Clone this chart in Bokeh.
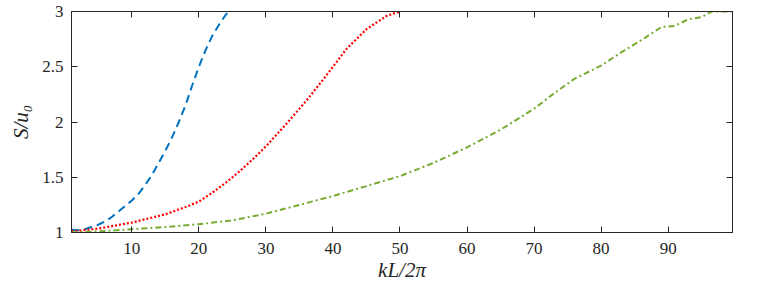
from bokeh.plotting import figure
from bokeh.models import Range1d, LinearAxis, FixedTicker
from bokeh.embed import file_html
from bokeh.resources import INLINE

# Data
blue_x = [1, 2, 3, 4, 5, 6, 7, 8, 9, 10, 11, 12, 13, 14, 15, 16, 17, 18, 19, 20, 21, 22, 23, 24, 24.5]
blue_y = [1.025, 1.02, 1.03, 1.05, 1.07, 1.10, 1.14, 1.19, 1.24, 1.29, 1.35, 1.43, 1.52, 1.63, 1.74,
          1.86, 2.0, 2.15, 2.33, 2.50, 2.65, 2.78, 2.88, 2.97, 3.0]

red_x = [1, 5, 10, 15, 18, 20, 22, 24, 26, 28, 30, 33, 36, 39, 42, 45, 48, 50]
red_y = [1.01, 1.035, 1.09, 1.165, 1.23, 1.28, 1.36, 1.45, 1.55, 1.66, 1.78, 1.98, 2.19, 2.42,
         2.66, 2.84, 2.96, 3.0]

green_x = [1, 5, 10, 15, 20, 25, 30, 35, 40, 45, 50, 55, 60, 65, 70, 73, 76, 80, 83, 86, 89, 91,
           93, 95, 96.5, 99.5]
green_y = [1.0, 1.01, 1.03, 1.05, 1.075, 1.11, 1.17, 1.25, 1.33, 1.42, 1.51, 1.63, 1.77, 1.93, 2.12,
           2.26, 2.39, 2.51, 2.63, 2.74, 2.86, 2.87, 2.93, 2.95, 3.0, 3.0]

x_ticks = [10, 20, 30, 40, 50, 60, 70, 80, 90]
y_ticks = [1, 1.5, 2, 2.5, 3]
y_tick_labels = {1: "1", 1.5: "1.5", 2: "2", 2.5: "2.5", 3: "3"}

AX = "#262626"
FONT = "Liberation Serif"

p = figure(width=752, height=284, output_backend="svg", toolbar_location=None,
           x_range=Range1d(1, 99.6), y_range=Range1d(1, 3),
           min_border_left=71, min_border_right=20, min_border_top=11, min_border_bottom=52,
           x_axis_label="kL/2π", y_axis_label="S/u₀")
p.grid.visible = False
p.outline_line_color = AX
p.background_fill_color = "white"
p.border_fill_color = "white"

p.line(blue_x, blue_y, line_color="#0072BD", line_width=2, line_dash="8 5")
p.line(red_x, red_y, line_color="#FF0000", line_width=2.2, line_dash="2 2")
p.line(green_x, green_y, line_color="#77AC30", line_width=2, line_dash="6 3 2 3")

for ax in (p.xaxis[0], p.yaxis[0]):
    ax.major_tick_in = 6
    ax.major_tick_out = 0
    ax.minor_tick_in = 0
    ax.minor_tick_out = 0
    ax.axis_line_color = AX
    ax.major_tick_line_color = AX
    ax.major_label_text_font = FONT
    ax.major_label_text_font_size = "17px"
    ax.major_label_text_color = AX
    ax.axis_label_text_font = FONT
    ax.axis_label_text_font_size = "21px"
    ax.axis_label_text_font_style = "italic"
    ax.axis_label_text_color = AX

p.xaxis[0].ticker = FixedTicker(ticks=x_ticks)
p.yaxis[0].ticker = FixedTicker(ticks=y_ticks)
p.yaxis[0].major_label_overrides = y_tick_labels
p.xaxis[0].major_label_standoff = 10
p.yaxis[0].major_label_standoff = 8
p.xaxis[0].axis_label_standoff = 1
p.yaxis[0].axis_label_standoff = 6

top = LinearAxis(ticker=FixedTicker(ticks=x_ticks))
right = LinearAxis(ticker=FixedTicker(ticks=y_ticks))
for ax in (top, right):
    ax.major_tick_in = 6
    ax.major_tick_out = 0
    ax.minor_tick_in = 0
    ax.minor_tick_out = 0
    ax.axis_line_color = AX
    ax.major_tick_line_color = AX
    ax.major_label_text_color = None
    ax.major_label_text_font_size = "0px"
    ax.major_label_standoff = 0
p.add_layout(top, "above")
p.add_layout(right, "right")

open("out.html", "w").write(file_html(p, INLINE))
